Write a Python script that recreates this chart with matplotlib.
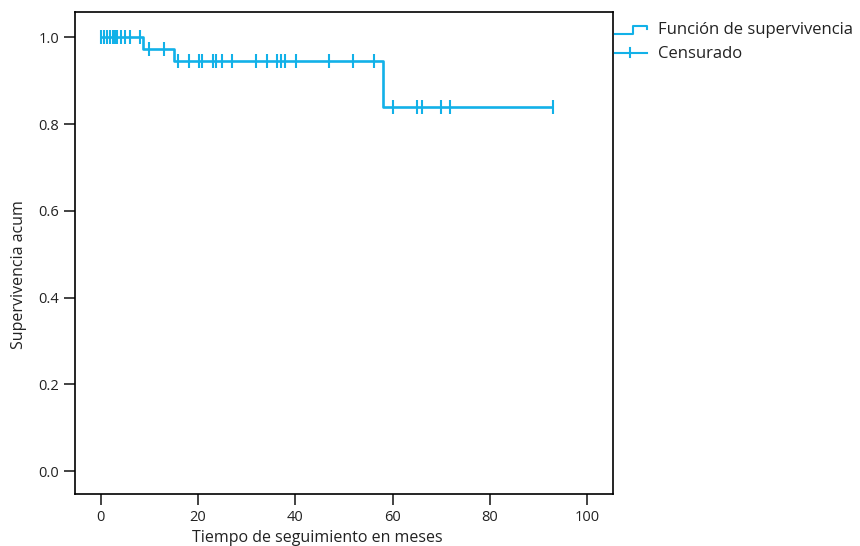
import matplotlib
matplotlib.use("Agg")
import matplotlib.pyplot as plt
from matplotlib.lines import Line2D
from matplotlib.legend_handler import HandlerBase

plt.rcParams['font.family'] = ['Open Sans', 'DejaVu Sans']

# step function: event times and survival after each
event_times = [8.75, 15.1, 58.0]
surv_levels = [1.0, 0.972, 0.944, 0.839]
last_time = 93.0

# censored observations (months) at each survival level
cens_lvl0 = [0.0, 0.7, 1.4, 1.9, 2.6, 3.0, 3.3, 4.1, 5.1, 6.0, 8.1]
cens_lvl1 = [9.9, 13.0]
cens_lvl2 = [15.9, 18.1, 20.3, 20.9, 23.0, 23.8, 24.9, 27.1, 31.9, 34.1,
             36.2, 37.0, 37.9, 40.1, 46.9, 51.9, 56.1]
cens_lvl3 = [60.0, 64.9, 66.1, 69.9, 71.8, 92.9]

xticks = [0, 20, 40, 60, 80, 100]
yticks = [0.0, 0.2, 0.4, 0.6, 0.8, 1.0]

color = '#12b1e8'

# build step coordinates
xs = [0.0]
ys = [surv_levels[0]]
for t, s in zip(event_times, surv_levels[1:]):
    xs += [t, t]
    ys += [ys[-1], s]
xs.append(last_time)
ys.append(surv_levels[-1])


class StepHandler(HandlerBase):
    def create_artists(self, legend, orig_handle, xdescent, ydescent,
                       width, height, fontsize, trans):
        x0, x1 = -xdescent, -xdescent + width
        ylo = -ydescent + 0.05 * height
        yhi = -ydescent + 0.75 * height
        xm = x0 + 0.55 * width
        line = Line2D([x0, xm, xm, x1, x1], [ylo, ylo, yhi, yhi, yhi - 0.3 * height],
                      color=color, lw=1.5, transform=trans)
        return [line]


class CensorHandler(HandlerBase):
    def create_artists(self, legend, orig_handle, xdescent, ydescent,
                       width, height, fontsize, trans):
        x0, x1 = -xdescent, -xdescent + width
        ym = -ydescent + 0.45 * height
        line = Line2D([x0, x1], [ym, ym], color=color, lw=1.5, transform=trans)
        xm = x0 + 0.45 * width
        tick = Line2D([xm, xm], [ym - 0.4 * height, ym + 0.4 * height],
                      color=color, lw=1.5, transform=trans)
        return [line, tick]


fig = plt.figure(figsize=(8.6, 5.46), dpi=100)
ax = fig.add_axes([0.0869, 0.0947, 0.6262, 0.8833])

ax.plot(xs, ys, color=color, lw=1.9, solid_capstyle='butt')
for cx, lvl in [(cens_lvl0, surv_levels[0]), (cens_lvl1, surv_levels[1]),
                (cens_lvl2, surv_levels[2]), (cens_lvl3, surv_levels[3])]:
    ax.plot(cx, [lvl] * len(cx), linestyle='none', marker='|',
            markersize=10, markeredgewidth=1.5, color=color)

ax.set_xlim(-5.3, 105.3)
ax.set_ylim(-0.053, 1.058)
ax.set_xticks(xticks)
ax.set_xticklabels([str(v) for v in xticks])
ax.set_yticks(yticks)
ax.set_yticklabels(['%.1f' % v for v in yticks])
ax.tick_params(direction='out', length=8, width=1.2, labelsize=10.5,
               colors='#222222', pad=3)
for sp in ax.spines.values():
    sp.set_linewidth(1.2)
    sp.set_color('black')

ax.set_xlabel('Tiempo de seguimiento en meses', fontsize=11.5, color='#222222')
ax.set_ylabel('Supervivencia acum', fontsize=11.5, color='#222222')
ax.xaxis.set_label_coords(0.45, -0.073)
ax.yaxis.set_label_coords(-0.088, 0.455)

h1 = Line2D([], [], color=color)
h2 = Line2D([], [], color=color, marker='|')
fig.legend([h1, h2], ['Función de supervivencia', 'Censurado'],
           handler_map={h1: StepHandler(), h2: CensorHandler()},
           loc='upper left', bbox_to_anchor=(0.7135, 0.962), frameon=False,
           fontsize=12, handlelength=1.9, handletextpad=0.65, borderaxespad=0,
           borderpad=0.1, labelspacing=0.45, labelcolor='#222222')

fig.savefig('out.png', dpi=100)
